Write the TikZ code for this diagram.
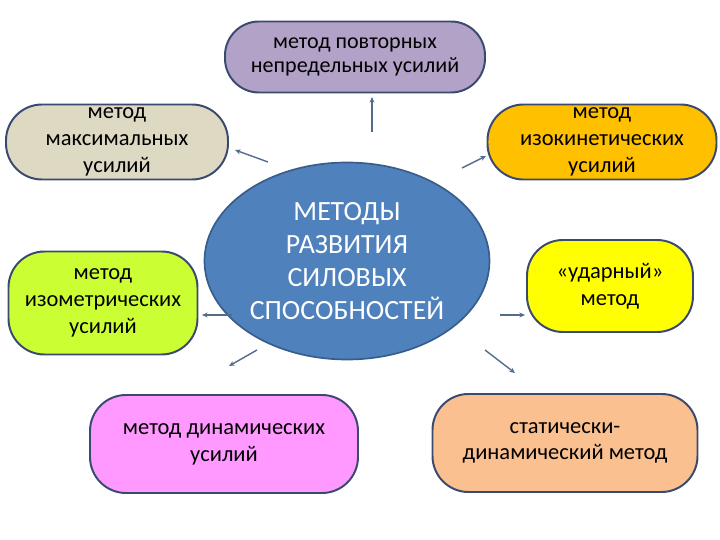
\documentclass[tikz,border=0pt]{standalone}
\usepackage{fontspec}
\setmainfont{Carlito}
\usepackage{xcolor}
\usepackage{tikz}
\usetikzlibrary{shapes.geometric, arrows.meta, positioning}
\definecolor{edgeline}{RGB}{58,74,110}
\definecolor{linkline}{RGB}{84,108,140}
\definecolor{coreblue}{RGB}{79,129,189}
\definecolor{coreedge}{RGB}{56,93,138}
\definecolor{lavender}{RGB}{179,162,199}
\definecolor{beige}{RGB}{221,217,195}
\definecolor{amber}{RGB}{255,192,0}
\definecolor{lime}{RGB}{204,255,51}
\definecolor{lemon}{RGB}{255,255,0}
\definecolor{orchid}{RGB}{255,153,255}
\definecolor{peach}{RGB}{250,192,144}
\tikzset{
    method/.style={rectangle, rounded corners=0.9cm, draw=edgeline, line width=1.4pt, text centered, align=center, inner sep=0pt, font=\fontsize{16}{19}\selectfont},
    core/.style={ellipse, draw=coreedge, line width=1.2pt, fill=coreblue, text=white, align=center, inner sep=0pt, font=\fontsize{19.8}{23.5}\selectfont},
    link/.style={-{Stealth[length=4pt, width=3.5pt]}, line width=1pt, linkline}
}
\begin{document}
\begin{tikzpicture}[
    topbox/.style={method, fill=lavender, minimum width=6.5cm, minimum height=1.775cm, rounded corners=0.85cm, font=\fontsize{15.7}{17}\selectfont},
    sidebox/.style={method, minimum width=5.6cm, minimum height=1.875cm}
]
    \useasboundingbox (0,0) rectangle (18,13.5);

    % Central ellipse
    \node[core, minimum width=7.125cm, minimum height=4.925cm] (centre) at (8.675,6.975) {МЕТОДЫ\\РАЗВИТИЯ\\СИЛОВЫХ\\СПОСОБНОСТЕЙ};

    % Methods
    \node[topbox] (repeat) at (8.875,12.075) {метод повторных\\непредельных усилий};
    \node[sidebox, fill=beige, minimum width=5.55cm] (maximal) at (2.925,9.95) {метод\\максимальных\\усилий};
    \node[sidebox, fill=amber, minimum width=5.725cm] (isokin) at (15.05,9.95) {метод\\изокинетических\\усилий};
    \node[method, fill=lime, minimum width=4.725cm, minimum height=2.575cm] (isometr) at (2.575,5.925) {метод\\изометрических\\усилий};
    \node[method, fill=lemon, minimum width=4.15cm, minimum height=2.3cm] (shock) at (15.25,6.35) {«ударный»\\метод};
    \node[method, fill=orchid, minimum width=6.7cm, minimum height=2.45cm] (dynamic) at (5.6,2.4) {метод динамических\\усилий};
    \node[method, fill=peach, minimum width=6.625cm, minimum height=2.45cm] (static) at (14.125,2.425) {статически-\\динамический метод};

    % Arrow ends
    \coordinate (r0) at (9.3,10.2);    \coordinate (r1) at (9.3,11.075);
    \coordinate (m0) at (6.7,9.45);    \coordinate (m1) at (5.875,9.75);
    \coordinate (k0) at (11.55,9.3);   \coordinate (k1) at (12.15,9.6);
    \coordinate (i0) at (5.8,5.625);   \coordinate (i1) at (5.05,5.625);
    \coordinate (s0) at (12.5,5.625);  \coordinate (s1) at (13.125,5.625);
    \coordinate (d0) at (6.425,4.75);  \coordinate (d1) at (5.725,4.35);
    \coordinate (c0) at (12.125,4.75); \coordinate (c1) at (12.875,4.175);

    % Connections
    \draw[link] (r0) -- (r1);
    \draw[link] (m0) -- (m1);
    \draw[link] (k0) -- (k1);
    \draw[link] (i0) -- (i1);
    \draw[link] (s0) -- (s1);
    \draw[link] (d0) -- (d1);
    \draw[link] (c0) -- (c1);
\end{tikzpicture}
\end{document}
